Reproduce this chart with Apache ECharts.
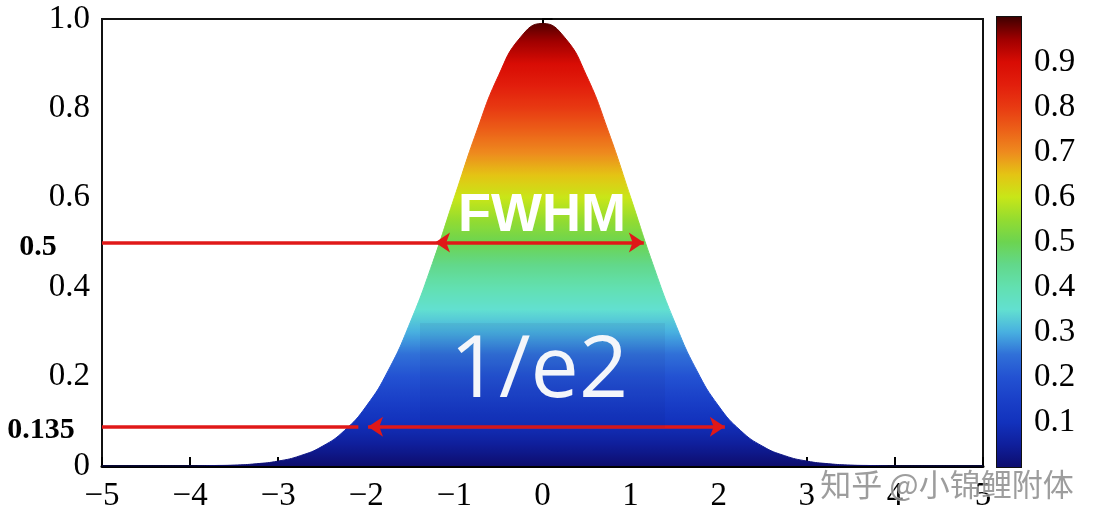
<!DOCTYPE html>
<html>
<head>
<meta charset="utf-8">
<script src="https://cdn.jsdelivr.net/npm/echarts@6/dist/echarts.min.js"></script>
<style>
  html, body { margin: 0; padding: 0; background: #fff; }
  #chart { width: 1109px; height: 530px; }
</style>
</head>
<body>
<div id="chart"></div>
<script>
const xValues = [-5, -4.75, -4.5, -4.25, -4, -3.75, -3.5, -3.25, -3, -2.75, -2.5, -2.25, -2, -1.75, -1.5, -1.25, -1, -0.75, -0.5, -0.25,
    0, 0.25, 0.5, 0.75, 1, 1.25, 1.5, 1.75, 2, 2.25, 2.5, 2.75, 3, 3.25, 3.5, 3.75, 4, 4.25, 4.5, 4.75, 5];
const intensity = [0, 0, 0, 0, 0, 0.001, 0.002, 0.005, 0.011, 0.023, 0.044, 0.079, 0.134, 0.214, 0.322, 0.453, 0.601, 0.747, 0.873, 0.959,
    0.99, 0.959, 0.873, 0.747, 0.601, 0.453, 0.322, 0.214, 0.134, 0.079, 0.044, 0.023, 0.011, 0.005, 0.002, 0.001, 0, 0, 0, 0, 0];
// jet colours, value 0 -> 1 in steps of 0.05
const jetColors = ['#0d0d6e', '#0f1f9c', '#1232bd', '#1a40c8', '#2352d2', '#3070d8', '#48b0e0', '#62e0d0', '#62e0b0', '#62d88a',
    '#6cd450', '#94dc30', '#c8e618', '#e4c414', '#ee8a1e', '#ec6018', '#e83a12', '#e21e0c', '#d80c04', '#a00000', '#400000'];
const fwhmLevel = 0.5;
const fwhmRange = [-1.22, 1.15];
const e2Level = 0.088;
const e2Range = [-1.98, 2.07];
const e2LineEnd = -2.09;

const serif = 'Liberation Serif';
const red = '#e01818';

const chart = echarts.init(document.getElementById('chart'));

const barStops = jetColors.map((c, i) => ({ offset: 1 - i / (jetColors.length - 1), color: c })).reverse();

const plain = { symbol: 'none' };
const arrowEnd = { symbol: 'arrow', symbolSize: 15 };

chart.setOption({
    animation: false,
    grid: [
        { left: 102, right: 126, top: 19, bottom: 64, show: true, borderColor: '#111', borderWidth: 2 },
        { left: 997, width: 24, top: 17, bottom: 63, show: true, borderColor: '#111', borderWidth: 2 }
    ],
    xAxis: [
        {
            type: 'value', min: -5, max: 5, interval: 1, gridIndex: 0,
            axisLine: { lineStyle: { color: '#000', width: 3 } },
            axisTick: { inside: true, length: 9, lineStyle: { color: '#000', width: 2 } },
            splitLine: { show: false },
            axisLabel: {
                color: '#000', fontFamily: serif, fontSize: 33, margin: 14,
                formatter: v => String(v).replace('-', '\u2212')
            }
        },
        { type: 'category', gridIndex: 1, data: [''], show: false }
    ],
    yAxis: [
        {
            type: 'value', min: 0, max: 1, interval: 0.2, gridIndex: 0,
            axisLine: { show: true, lineStyle: { color: '#000', width: 2 } },
            axisTick: { show: true, inside: true, length: 10, lineStyle: { color: '#000', width: 2 } },
            splitLine: { show: false },
            axisLabel: {
                color: '#000', fontFamily: serif, fontSize: 33, margin: 12,
                formatter: v => v === 0 ? '0' : v.toFixed(1)
            }
        },
        {
            type: 'value', min: 0, max: 1, interval: 0.1, gridIndex: 1, position: 'right',
            axisLine: { show: false }, axisTick: { show: false }, splitLine: { show: false },
            axisLabel: {
                color: '#000', fontFamily: serif, fontSize: 33, margin: 13,
                formatter: v => (v < 0.05 || v > 0.95) ? '' : v.toFixed(1)
            }
        }
    ],
    visualMap: {
        type: 'continuous', show: false, seriesIndex: 0, dimension: 1,
        min: 0, max: 1, inRange: { color: jetColors }
    },
    series: [
        {
            type: 'line',
            xAxisIndex: 0, yAxisIndex: 0,
            data: xValues.map((x, i) => [x, intensity[i]]),
            smooth: true,
            showSymbol: false,
            lineStyle: { width: 1 },
            areaStyle: { opacity: 1 },
            markLine: {
                silent: true,
                animation: false,
                label: { show: false },
                lineStyle: { color: red, width: 3.5, type: 'solid' },
                data: [
                    [{ coord: [-5, fwhmLevel], ...plain }, { coord: [fwhmRange[0], fwhmLevel], ...plain }],
                    [{ coord: [fwhmRange[0], fwhmLevel], ...arrowEnd }, { coord: [fwhmRange[1], fwhmLevel], ...arrowEnd }],
                    [{ coord: [-5, e2Level], ...plain }, { coord: [e2LineEnd, e2Level], ...plain }],
                    [{ coord: [e2Range[0], e2Level], ...arrowEnd }, { coord: [e2Range[1], e2Level], ...arrowEnd }]
                ]
            }
        },
        {
            type: 'bar',
            xAxisIndex: 1, yAxisIndex: 1,
            data: [1],
            barWidth: '100%',
            silent: true,
            itemStyle: { color: new echarts.graphic.LinearGradient(0, 0, 0, 1, barStops) }
        }
    ],
    graphic: [
        {
            type: 'rect', z: 50,
            shape: { x: 420, y: 323, width: 245, height: 105 },
            style: { fill: 'rgba(10,20,90,0.06)' }
        },
        {
            type: 'text', z: 100, x: 542, y: 216,
            style: { text: 'FWHM', fill: '#fff', font: 'bold 54px "Liberation Sans", Arial', align: 'center', verticalAlign: 'middle' }
        },
        {
            type: 'text', z: 100, x: 539, y: 372,
            style: { text: '1/e2', fill: '#f4f6fa', font: '86px "Open Sans"', align: 'center', verticalAlign: 'middle' }
        },
        {
            type: 'text', z: 100, x: 38, y: 247,
            style: { text: '0.5', fill: '#000', font: 'bold 30px "Liberation Serif"', align: 'center', verticalAlign: 'middle' }
        },
        {
            type: 'text', z: 100, x: 41, y: 430,
            style: { text: '0.135', fill: '#000', font: 'bold 30px "Liberation Serif"', align: 'center', verticalAlign: 'middle' }
        },
        {
            type: 'text', z: 100, x: 947, y: 484,
            style: {
                text: '知乎 @小锦鲤附体', fill: 'rgba(140,140,140,0.85)', font: '31px "Noto Sans CJK SC"',
                align: 'center', verticalAlign: 'middle', stroke: 'rgba(255,255,255,0.6)', lineWidth: 1
            }
        }
    ]
});
</script>
</body>
</html>
